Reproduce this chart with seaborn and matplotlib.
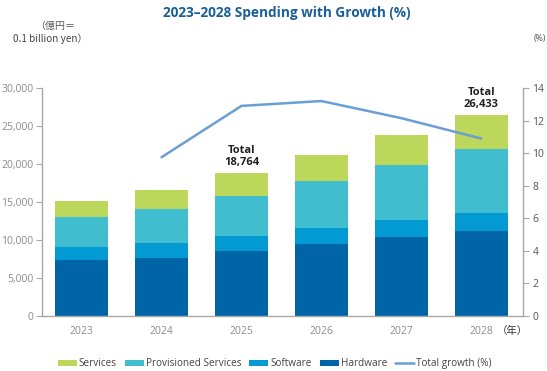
import matplotlib
matplotlib.use("Agg")
import matplotlib.pyplot as plt
import seaborn as sns
import numpy as np
import pandas as pd
from matplotlib.patches import Patch
from matplotlib.lines import Line2D

years = ["2023", "2024", "2025", "2026", "2027", "2028"]
hardware = [7330, 7680, 8600, 9470, 10390, 11140]
software = [1750, 1920, 1970, 2070, 2240, 2370]
provisioned = [3920, 4440, 5220, 6220, 7190, 8420]
services = [2090, 2540, 2974, 3420, 3950, 4503]
growth_years = ["2024", "2025", "2026", "2027", "2028"]
growth = [9.75, 12.9, 13.2, 12.15, 10.9]
series_names = ["Services", "Provisioned Services", "Software", "Hardware"]
annot_years = ["2025", "2028"]

colors = {"Services": "#bdd75a", "Provisioned Services": "#40bdce",
          "Software": "#0399d3", "Hardware": "#0065a7"}
line_color = "#6a9fd6"
gray = "#8c8c8c"
spine_gray = "#a8a8a8"

sns.set_theme(style="white")
plt.rcParams['font.family'] = ['Open Sans', 'Noto Sans CJK JP', 'DejaVu Sans']

fig = plt.figure(figsize=(5.47, 3.71), dpi=100)
ax = fig.add_axes([0.0762, 0.1482, 0.8794, 0.6146])

df = pd.DataFrame({"year": years, "Hardware": hardware, "Software": software,
                   "Provisioned Services": provisioned, "Services": services})
df["c_hw"] = df["Hardware"]
df["c_sw"] = df["c_hw"] + df["Software"]
df["c_pv"] = df["c_sw"] + df["Provisioned Services"]
df["c_sv"] = df["c_pv"] + df["Services"]

for col, name in [("c_sv", "Services"), ("c_pv", "Provisioned Services"),
                  ("c_sw", "Software"), ("c_hw", "Hardware")]:
    sns.barplot(data=df, x="year", y=col, color=colors[name], saturation=1,
                width=0.66, ax=ax, order=years, linewidth=0)

ax.set_ylim(0, 30000)
ax.set_xlim(-0.5, 5.52)
ax.set_yticks(range(0, 30001, 5000))
ax.set_yticklabels([f"{v:,}" for v in range(0, 30001, 5000)])
ax.set_xlabel("")
ax.set_ylabel("")
ax.tick_params(axis="y", colors=spine_gray, labelcolor=gray, labelsize=7.5, length=4,
               width=0.8, pad=2, left=True, direction="out")
ax.tick_params(axis="x", length=0, labelsize=7.5, labelcolor=gray, pad=7)
for s in ["top", "right"]:
    ax.spines[s].set_visible(False)
for s in ["left", "bottom"]:
    ax.spines[s].set_color(spine_gray)
    ax.spines[s].set_linewidth(1.0)

ax2 = ax.twinx()
gx = [years.index(y) for y in growth_years]
sns.lineplot(x=gx, y=growth, color=line_color, linewidth=1.8, ax=ax2)
ax2.set_ylim(0, 14)
ax2.set_yticks(range(0, 15, 2))
ax2.tick_params(axis="y", colors=spine_gray, labelcolor="#555555", labelsize=7.5,
                length=4, width=0.8, pad=3, right=True, direction="out")
for s in ["top", "left", "bottom"]:
    ax2.spines[s].set_visible(False)
ax2.spines["right"].set_color(spine_gray)
ax2.spines["right"].set_linewidth(1.0)
ax2.set_xlim(ax.get_xlim())

totals = df.set_index("year")["c_sv"]
for y in annot_years:
    t = totals[y]
    ax.text(years.index(y), t + 700, f"Total\n{t:,}", ha="center", va="bottom",
            fontsize=8, fontweight="bold", color="#222222", linespacing=1.1)

ax.text(5.19, -1950, "（年）", ha="left", va="center", fontsize=7.5, color="#333333",
        family=['Noto Sans CJK JP', 'DejaVu Sans'], clip_on=False)

fig.text(0.525, 0.966, "2023–2028 Spending with Growth (%)", ha="center", va="center",
         fontsize=9.8, fontweight="bold", color="#1a5f99")
fig.text(0.101, 0.930, "（億円＝", ha="center", va="center", fontsize=7.2,
         color="#555555", family=['Noto Sans CJK JP', 'DejaVu Sans'])
fig.text(0.092, 0.895, "0.1 billion yen）", ha="center", va="center", fontsize=7.2,
         color="#444444", family=['Noto Sans CJK JP', 'DejaVu Sans'])
fig.text(0.987, 0.895, "(%)", ha="center", va="center", fontsize=6.3, color="#555555")

handles = [Patch(facecolor=colors[n], edgecolor="none", label=n) for n in series_names]
handles.append(Line2D([0], [0], color=line_color, lw=1.8, label="Total growth (%)"))
fig.legend(handles=handles, loc="center", bbox_to_anchor=(0.502, 0.02), ncol=5,
           frameon=False, fontsize=7.2, handlelength=1.9, handleheight=0.55,
           handletextpad=0.2, columnspacing=0.8, labelcolor="#444444")

fig.savefig("out.png", dpi=100)
